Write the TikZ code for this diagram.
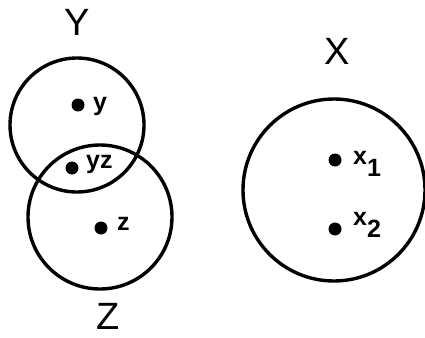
\documentclass[tikz,border=0pt]{standalone}
\usepackage{fontspec}
\setmainfont{Liberation Sans}
\newcommand{\lowsub}[1]{\raisebox{-12pt}{#1}}
\begin{document}
\begin{tikzpicture}[x=1pt,y=-1pt,
  ring/.style={draw=black,line width=3.4pt},
  pt/.style={circle,fill=black,inner sep=0pt,minimum size=13pt},
  big/.style={font=\fontsize{38}{40}\selectfont,inner sep=0pt},
  small/.style={font=\fontsize{25}{27}\selectfont\bfseries,inner sep=0pt,anchor=base west}]
\useasboundingbox (0,0) rectangle (425,337);
\draw[ring] (77,125) circle (67);
\draw[ring] (100,217) circle (72);
\draw[ring] (334,190) circle (91);
\node[big] (Y) at (77,22) {Y};
\node[big] (Z) at (108,316) {Z};
\node[big] (X) at (337,51) {X};
\node[pt] (dy) at (78,105) {};
\node[small] (ly) at (93,110) {y};
\node[pt] (dyz) at (72,168) {};
\node[small] (lyz) at (86,168) {yz};
\node[pt] (dz) at (101,228) {};
\node[small] (lz) at (117,230) {z};
\node[pt] (dx1) at (335,160) {};
\node[small] (lx1) at (353,164) {x\lowsub{1}};
\node[pt] (dx2) at (335,229) {};
\node[small] (lx2) at (353,225) {x\lowsub{2}};
\end{tikzpicture}
\end{document}
